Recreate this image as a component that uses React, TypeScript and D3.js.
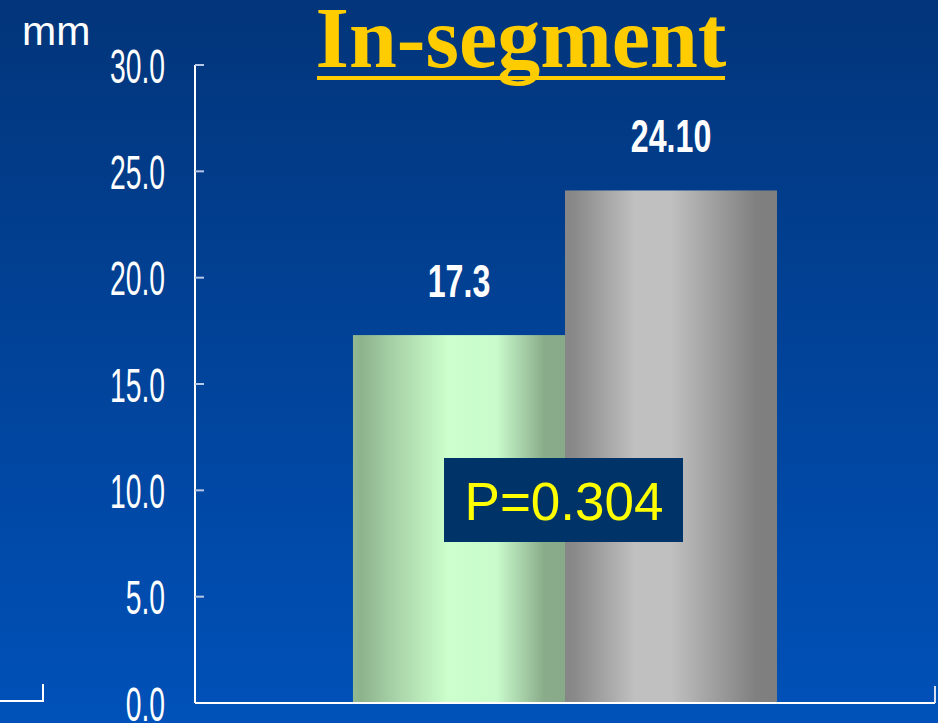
import React, { useEffect, useRef } from "react";
import * as d3 from "d3";

// Chart data
const groups = ["A", "B"];
const values = [17.3, 24.1];
const valueLabels = ["17.3", "24.10"];
const yTicks = [0, 5, 10, 15, 20, 25, 30];
const yTickLabels = ["0.0", "5.0", "10.0", "15.0", "20.0", "25.0", "30.0"];
const titleText = "In-segment";
const unitText = "mm";
const pText = "P=0.304";

const W = 938;
const H = 723;

export default function App() {
  const ref = useRef<SVGSVGElement | null>(null);

  useEffect(() => {
    const svg = d3.select(ref.current);
    svg.selectAll("*").remove();

    const defs = svg.append("defs");

    const bg = defs.append("linearGradient").attr("id", "bg").attr("x1", 0).attr("y1", 0).attr("x2", 0).attr("y2", 1);
    bg.append("stop").attr("offset", 0).attr("stop-color", "#02357a");
    bg.append("stop").attr("offset", 1).attr("stop-color", "#0051b9");

    const green = defs.append("linearGradient").attr("id", "gGreen").attr("x1", 0).attr("y1", 0).attr("x2", 1).attr("y2", 0);
    [
      [0, "#93b993"],
      [0.04, "#8db38d"],
      [0.2, "#a8d3a8"],
      [0.45, "#ccffcc"],
      [0.68, "#c8facb"],
      [0.9, "#8aac8a"],
      [1, "#88aa88"],
    ].forEach(([o, c]) => green.append("stop").attr("offset", o as number).attr("stop-color", c as string));

    const grey = defs.append("linearGradient").attr("id", "gGrey").attr("x1", 0).attr("y1", 0).attr("x2", 1).attr("y2", 0);
    [
      [0, "#868686"],
      [0.05, "#8a8a8a"],
      [0.33, "#c0c0c0"],
      [0.5, "#c0c0c0"],
      [0.9, "#808080"],
      [1, "#7e7e7e"],
    ].forEach(([o, c]) => grey.append("stop").attr("offset", o as number).attr("stop-color", c as string));

    svg.append("rect").attr("width", W).attr("height", H).attr("fill", "url(#bg)");

    const x = d3.scaleBand<string>().domain(groups).range([195, 935]).paddingInner(0).paddingOuter(0.745);
    const y = d3.scaleLinear().domain([0, 30]).range([703, 65]);

    // Bars
    const fills = ["url(#gGreen)", "url(#gGrey)"];
    svg
      .selectAll("rect.bar")
      .data(values)
      .enter()
      .append("rect")
      .attr("class", "bar")
      .attr("x", (_, i) => x(groups[i])!)
      .attr("width", x.bandwidth())
      .attr("y", (d) => y(d))
      .attr("height", (d) => y(0) - y(d))
      .attr("fill", (_, i) => fills[i]);

    // Value labels
    svg
      .selectAll("text.val")
      .data(values)
      .enter()
      .append("text")
      .attr("class", "val")
      .attr("transform", (d, i) => `translate(${x(groups[i])! + x.bandwidth() / 2},${y(d) - 38}) scale(0.7,1)`)
      .attr("text-anchor", "middle")
      .attr("font-family", "'Liberation Sans', Arial, sans-serif")
      .attr("font-weight", "bold")
      .attr("font-size", 46)
      .attr("fill", "#ffffff")
      .text((_, i) => valueLabels[i]);

    // Y axis
    const axisX = 195;
    svg.append("line").attr("x1", axisX).attr("x2", axisX).attr("y1", y(30)).attr("y2", y(0)).attr("stroke", "#ffffff").attr("stroke-width", 2);
    svg
      .selectAll("line.tick")
      .data(yTicks)
      .enter()
      .append("line")
      .attr("class", "tick")
      .attr("x1", axisX)
      .attr("x2", axisX + 9)
      .attr("y1", (d) => y(d))
      .attr("y2", (d) => y(d))
      .attr("stroke", "#b8c8e8")
      .attr("stroke-width", 2);
    svg
      .selectAll("text.tl")
      .data(yTicks)
      .enter()
      .append("text")
      .attr("class", "tl")
      .attr("transform", (d) => `translate(165,${y(d) + 17.5}) scale(0.59,1)`)
      .attr("text-anchor", "end")
      .attr("font-family", "'Liberation Sans', Arial, sans-serif")
      .attr("font-size", 48)
      .attr("fill", "#ffffff")
      .text((_, i) => yTickLabels[i]);

    // Baseline with end tick
    svg.append("line").attr("x1", axisX).attr("x2", 935).attr("y1", y(0)).attr("y2", y(0)).attr("stroke", "#ffffff").attr("stroke-width", 2);
    svg.append("line").attr("x1", 935).attr("x2", 935).attr("y1", 686).attr("y2", y(0)).attr("stroke", "#d8e0f0").attr("stroke-width", 2);

    // Corner bracket bottom-left
    svg.append("path").attr("d", "M0,701H43V684").attr("fill", "none").attr("stroke", "#ffffff").attr("stroke-width", 2);

    // Unit label
    svg
      .append("text")
      .attr("x", 22)
      .attr("y", 45)
      .attr("font-family", "'Liberation Sans', Arial, sans-serif")
      .attr("font-size", 41)
      .attr("fill", "#ffffff")
      .text(unitText);

    // Title
    svg
      .append("text")
      .attr("x", 521)
      .attr("y", 67)
      .attr("text-anchor", "middle")
      .attr("font-family", "'Liberation Serif', 'Times New Roman', serif")
      .attr("font-weight", "bold")
      .attr("font-size", 86)
      .attr("fill", "#ffcc00")
      .text(titleText);
    svg.append("rect").attr("x", 317).attr("y", 76).attr("width", 408).attr("height", 4).attr("fill", "#ffcc00");

    // P-value box
    svg.append("rect").attr("x", 444).attr("y", 458).attr("width", 239).attr("height", 84).attr("fill", "#003468");
    svg
      .append("text")
      .attr("x", 564)
      .attr("y", 520)
      .attr("text-anchor", "middle")
      .attr("font-family", "'Liberation Sans', Arial, sans-serif")
      .attr("font-size", 53)
      .attr("fill", "#ffff00")
      .text(pText);
  }, []);

  return <svg ref={ref} width={W} height={H} style={{ position: "absolute", left: 0, top: 0, display: "block" }} />;
}
